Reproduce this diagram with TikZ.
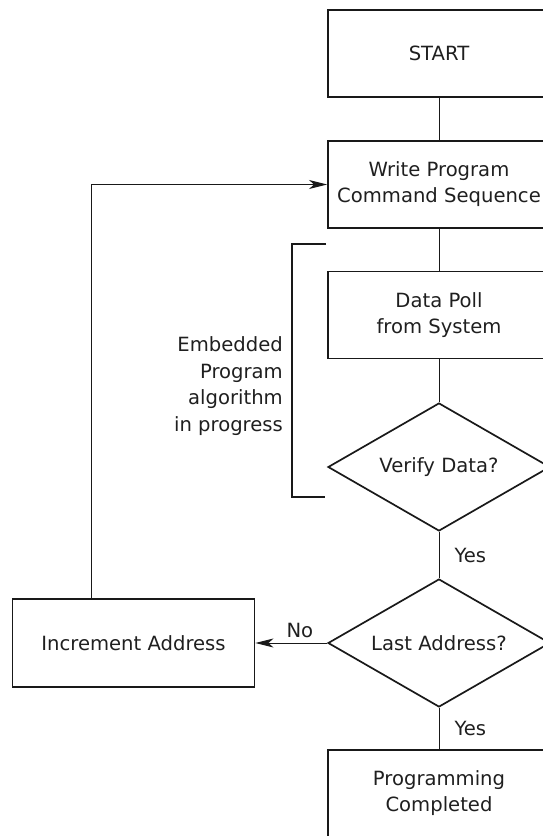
\documentclass[tikz,border=0pt]{standalone}
\usepackage{fontspec}
\setmainfont{DejaVu Sans}
\usetikzlibrary{shapes.geometric,arrows.meta}
\begin{document}
\begin{tikzpicture}[x=1pt,y=-1pt,
  every node/.style={font=\fontsize{19.6}{26}\selectfont, text=black!88},
  box/.style={draw=black!90, line width=1.9pt, minimum width=222pt, minimum height=87pt, align=center, inner sep=0pt},
  decision/.style={draw=black!90, diamond, line width=1.7pt, minimum width=222pt, minimum height=128pt, aspect=1.73, inner sep=0pt},
  conn/.style={draw=black!90, line width=1pt},
  arr/.style={conn, -{Stealth[length=18pt,width=9pt,inset=5pt]}},
  lbl/.style={inner sep=0pt}
]
\useasboundingbox (0,0) rectangle (543,836);
\clip (0,0) rectangle (543,836);
\node[box] (start) at (439,53.5) {START};
\node[box] (write) at (439,184.5) {Write Program\\Command Sequence};
\node[box] (poll) at (439,315) {Data Poll\\from System};
\node[decision] (verify) at (439,467) {Verify Data?};
\node[decision] (last) at (439,643) {Last Address?};
\node[box, minimum width=242pt, minimum height=88pt] (inc) at (133.5,643) {Increment Address};
\node[box] (done) at (439,793.5) {Programming\\Completed};

\coordinate (loop) at (91,184.5);
\coordinate (bt) at (326,244);
\coordinate (bb) at (325,497);

\draw[conn] (start) -- (write);
\draw[conn] (write) -- (poll);
\draw[conn] (poll) -- (verify);
\draw[conn] (verify) -- node[lbl, right=15pt, pos=0.5]{Yes} (last);
\draw[conn] (last) -- node[lbl, right=15pt, pos=0.5]{Yes} (done);
\draw[arr] (last.west) -- node[lbl, above=5pt, pos=0.38]{No} (inc.east);
\draw[arr] (inc.north -| loop) -- (loop) -- (write.west);
\draw[draw=black!90, line width=1.9pt] (bt) -- (292,244) -- (292,497) -- (bb);
\node[lbl, align=right, anchor=east, font=\fontsize{19.6}{26.7}\selectfont] (side) at (283,386) {Embedded~\\Program\\algorithm\\in progress};
\end{tikzpicture}
\end{document}
